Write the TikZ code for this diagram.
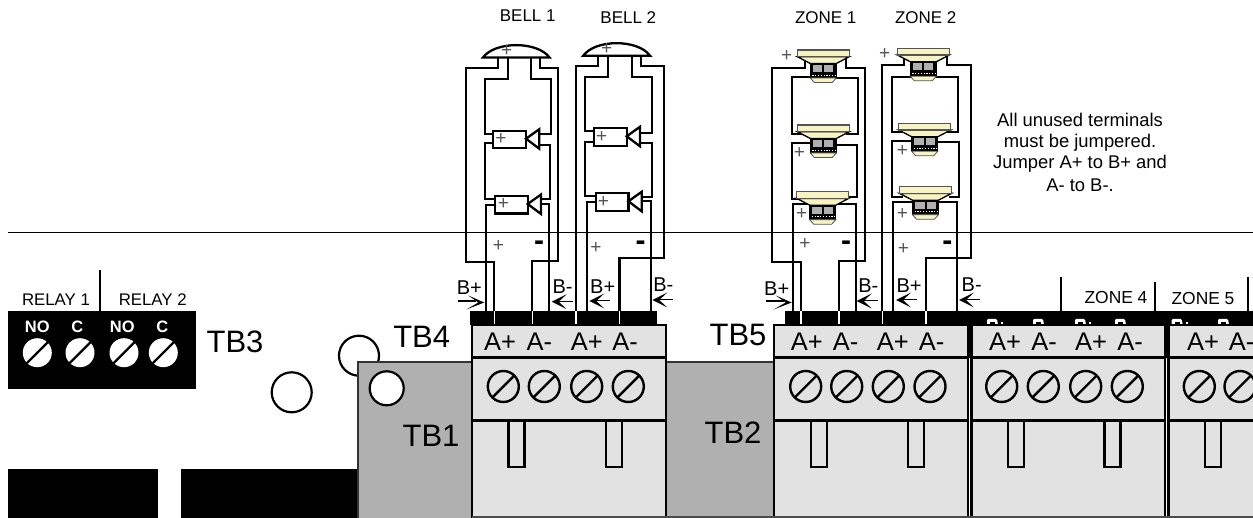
\documentclass[tikz,border=0pt]{standalone}
\usepackage{fontspec}
\setmainfont{Liberation Sans}
\newcommand\fsz[1]{\fontsize{#1}{#1}\selectfont}
\definecolor{blockgray}{HTML}{E2E2E2}
\definecolor{boardgray}{HTML}{B0B0B0}
\definecolor{cream}{HTML}{F8F3C2}
\definecolor{plusgray}{HTML}{555555}
\tikzset{
  wire/.style={line width=2.3pt,line join=miter,line cap=butt,black},
  bodyline/.style={line width=2.2pt,black},
  txt/.style={inner sep=0pt,text=black},
  tblabel/.style={txt,font=\fsz{31}},
  alabel/.style={txt,font=\fsz{25.5}},
  devlabel/.style={txt,font=\fsz{17}},
  blabel/.style={txt,font=\fsz{20}},
  pluslabel/.style={txt,text=plusgray,font=\fsz{19}},
  minuslabel/.style={txt,font=\bfseries\fsz{30}},
  notelabel/.style={txt,font=\fsz{18.4}},
}
% screw: centre
\newcommand\tbscrew[2]{%
  \draw[line width=2.4pt,fill=blockgray] (#1,#2) circle (15.5pt);
  \draw[line width=2.4pt] (#1-11,#2+11) -- (#1+11,#2-11);}
\newcommand\relayscrew[2]{%
  \fill[white] (#1,#2) circle (14.5pt);
  \draw[line width=2.2pt,black] (#1-10.5,#2+10.5) -- (#1+10.5,#2-10.5);}
% terminal block: left, right
\newcommand\tbblock[2]{%
  \fill[blockgray] (#1,325) rectangle (#2,520);
  \draw[bodyline] (#1,520) -- (#1,325) -- (#2,325) -- (#2,520);
  \draw[bodyline] (#1,357.5) -- (#2,357.5);
  \draw[bodyline] (#1,420.5) -- (#2,420.5);}
\newcommand\tbtab[1]{%
  \draw[bodyline] (#1,420.5) -- (#1,467) -- (#1+16,467) -- (#1+16,420.5);}
% horn: rect left, rect top
\newcommand\horn[2]{%
  \begin{scope}[shift={(#1,#2)}]
  \draw[wire,fill=white] (0,0) rectangle (32.7,17.6);
  \draw[wire,fill=white] (32.7,8) -- (46,-1.5) -- (46,18) -- cycle;
  \end{scope}}
% dome: left, right, base y, top y
\newcommand\dome[4]{%
  \draw[wire,fill=white] (#1,#3) .. controls (#1+12,#4-1) and (#2-12,#4-1) .. (#2,#3) -- cycle;}
% speaker: centre x, top y
\newcommand\speaker[2]{%
  \begin{scope}[shift={(#1,#2)}]
  \fill[black] (-13.5,13) rectangle (13.5,28);
  \fill[boardgray] (-10.5,15) rectangle (-1,22);
  \fill[boardgray] (1,15) rectangle (10,22);
  \draw[line width=.8pt,white,dash pattern=on 1.2pt off 1.6pt] (-11,25) -- (12,25);
  \draw[line width=1.3pt,fill=cream] (-26,6.7) -- (26,6.7) -- (13,13.5) -- (-13,13.5) -- cycle;
  \draw[line width=1.2pt,draw=plusgray,fill=cream] (-26,0) rectangle (26,6.7);
  \draw[line width=.8pt,draw=plusgray,fill=cream] (-13,28) -- (13,28) -- (9,32.5) -- (-9,32.5) -- cycle;
  \end{scope}}
% arrows: tip x, y
\newcommand\arrR[2]{%
  \draw[line width=1.1pt] (#1-26,#2-1.5) -- (#1-8,#2-1.5);
  \fill (#1,#2) -- (#1-16,#2-7) -- (#1-6,#2) -- (#1-18,#2+7) -- cycle;}
\newcommand\arrL[2]{%
  \draw[line width=1.1pt] (#1+21,#2-.5) -- (#1+6,#2-.5);
  \fill (#1,#2) -- (#1+15,#2-7.5) -- (#1+7,#2) -- (#1+15,#2+7.5) -- cycle;}
% clipped tops of the B+ and B- legends in the zone strip
\newcommand\bcap[1]{%
  \fill[white,rounded corners=1.2pt] (#1,325) -- (#1,319) -- (#1+10,319) -- (#1+11,325) -- cycle;
  \fill[black] (#1+3,322) rectangle (#1+8,325.5);}
\begin{document}
\begin{tikzpicture}[x=1pt,y=-1pt]
\path[use as bounding box] (0,0) rectangle (1253,518);
\clip (0,0) rectangle (1253,518);
\fill[white] (0,0) rectangle (1253,518);

% horizontal line
\draw[line width=1pt] (8,232.7) -- (1253,232.7);

% ---------- board
\fill (8,469.3) rectangle (158,518);
\fill (180.7,469.3) rectangle (358,518);
\draw[bodyline,fill=white] (291.7,392.3) circle (20pt);
\draw[bodyline,fill=white] (359,355.7) circle (20pt);
\draw[line width=2pt,draw=black!80,fill=boardgray] (358,520) -- (358,361.7) -- (480,361.7) -- (480,520);
\fill[boardgray] (660,361.7) rectangle (780,520);
\draw[line width=2pt,draw=black!80] (660,361.7) -- (780,361.7);
\draw[bodyline,fill=white] (386.7,388.3) circle (17pt);

% ---------- relay block
\fill (8,311) rectangle (195.7,389.3);
\draw[line width=2.2pt] (100,270) -- (100,311);
\foreach \x in {37.3,80,124,163.3} {\relayscrew{\x}{352.7}}
\node[txt,text=white,font=\bfseries\fsz{16.5}] (rno1) at (37.3,326.7) {NO};
\node[txt,text=white,font=\bfseries\fsz{16.5}] (rc1) at (77.3,326.7) {C};
\node[txt,text=white,font=\bfseries\fsz{16.5}] (rno2) at (122.3,326.7) {NO};
\node[txt,text=white,font=\bfseries\fsz{16.5}] (rc2) at (162.3,326.7) {C};
\node[txt,font=\fsz{16.8}] (relay1) at (56,300) {RELAY 1};
\node[txt,font=\fsz{16.8}] (relay2) at (152.7,300) {RELAY 2};

% ---------- wires: bell 1
\draw[wire] (497.7,57) -- (497.7,67.7) -- (465.7,67.7) -- (465.7,261.7) -- (494.3,261.7) -- (494.3,312);
\draw[wire] (507.7,57) -- (507.7,79.3) -- (485,79.3) -- (485,134) -- (494,134);
\draw[wire] (531,57) -- (531,79.3) -- (551,79.3) -- (551,134) -- (539,134);
\draw[wire] (540,57) -- (540,67.7) -- (558.3,67.7) -- (558.3,261) -- (532.3,261) -- (532.3,312);
\draw[wire] (494,143.3) -- (485,143.3) -- (485,199) -- (496,199);
\draw[wire] (539,145) -- (550,145) -- (550,199) -- (540,199);
\draw[wire] (496,205) -- (486,205) -- (486,312);
\draw[wire] (540,204) -- (549.3,204) -- (549.3,312);
\dome{483}{549.5}{57.5}{42}
\horn{493.3}{130.7}
\horn{495}{196}

% ---------- wires: bell 2
\draw[wire] (598.3,55) -- (598.3,65.7) -- (575.7,65.7) -- (575.7,312);
\draw[wire] (608.3,55) -- (608.3,76.7) -- (585.3,76.7) -- (585.3,130.7) -- (594,130.7);
\draw[wire] (632,55) -- (632,77.3) -- (651.7,77.3) -- (651.7,132.7) -- (640,132.7);
\draw[wire] (640.7,55) -- (640.7,65.7) -- (664,65.7) -- (664,257.7) -- (619.5,257.7) -- (619.5,312);
\draw[wire] (594,141.7) -- (585.3,141.7) -- (585.3,195.7) -- (596,195.7);
\draw[wire] (640,142.7) -- (651.7,142.7) -- (651.7,196.7) -- (641,196.7);
\draw[wire] (596,201.7) -- (586.7,201.7) -- (586.7,312);
\draw[wire] (641,201) -- (650.7,201) -- (650.7,312);
\dome{583.3}{650}{55.7}{40}
\horn{594}{128.3}
\horn{595.7}{193.3}

% ---------- wires: zone 1
\draw[wire] (805,60) -- (805,67.7) -- (772.3,67.7) -- (772.3,261.7) -- (800.7,261.7) -- (800.7,312);
\draw[wire] (846,56) -- (846,67.7) -- (865,67.7) -- (865,261) -- (838.7,261) -- (838.7,312);
\draw[wire] (811,77.3) -- (791.7,77.3) -- (791.7,134) -- (802,134);
\draw[wire] (835,78) -- (857.7,78) -- (857.7,134) -- (846,134);
\draw[wire] (811,143.3) -- (791.7,143.3) -- (791.7,199) -- (802,199);
\draw[wire] (835,145) -- (856.7,145) -- (856.7,197) -- (845,197);
\draw[wire] (811,204.3) -- (792.7,204.3) -- (792.7,312);
\draw[wire] (834,204.3) -- (855.7,204.3) -- (855.7,312);
\speaker{823.3}{50}
\speaker{823.3}{125}
\speaker{822.7}{191.7}

% ---------- wires: zone 2
\draw[wire] (904,57) -- (904,65) -- (882,65) -- (882,312);
\draw[wire] (946.7,55) -- (946.7,65) -- (970.7,65) -- (970.7,257.7) -- (925.7,257.7) -- (925.7,312);
\draw[wire] (912,76.7) -- (891.7,76.7) -- (891.7,131.7) -- (902,131.7);
\draw[wire] (935,77.3) -- (958.3,77.3) -- (958.3,131.7) -- (947,131.7);
\draw[wire] (912,141) -- (891.7,141) -- (891.7,196.7) -- (903,196.7);
\draw[wire] (936,142.3) -- (958.7,142.3) -- (958.7,196.7) -- (949,196.7);
\draw[wire] (913,201.7) -- (893.3,201.7) -- (893.3,312);
\draw[wire] (936,201.7) -- (957.3,201.7) -- (957.3,312);
\speaker{923.3}{48.3}
\speaker{924.7}{123.3}
\speaker{925.5}{186.7}

% ---------- black strips with wire ticks
\fill (470,311) rectangle (656.7,325);
\foreach \x in {494.3,532.3,575.7,619.5} {\draw[line width=1.6pt,white] (\x,311) -- (\x,325);}
\fill (785,311) rectangle (1253,325);
\foreach \x in {800.7,838.7,882.3,925.7} {\draw[line width=1.6pt,white] (\x,311) -- (\x,325);}
\draw[line width=2.2pt] (1061,277) -- (1061,311);
\draw[line width=2.2pt] (1155,281.7) -- (1155,311);
\draw[line width=2.2pt] (1248.3,277) -- (1248.3,311);
\foreach \x in {987,1033,1075,1115,1171.7,1218} {\bcap{\x}}
\foreach \x in {1001,1089,1186} {\fill[white] (\x,322) rectangle (\x+2,325);}

% ---------- terminal blocks
\tbblock{472}{666}
\tbblock{774}{968}
\fill (968,325) rectangle (972,358);
\tbblock{971.5}{1165}
\fill (1165,325) rectangle (1169,358);
\tbblock{1168.5}{1275}
\foreach \x in {508.5,606,811,908,1008,1104.5,1205} {\tbtab{\x}}
\foreach \x in {503.3,544.3,586.7,628.3,805.7,846.7,888.3,930,1001.7,1043.3,1085.7,1127.3,1199.3,1240} {\tbscrew{\x}{386.5}}
\draw[line width=1.4pt,draw=black!70] (472,517) -- (1253,517);

\foreach \x/\t in {500/A+,539.3/A-,586.7/A+,625/A-,806.7/A+,845.7/A-,892.7/A+,931.7/A-,1005/A+,1044/A-,1091/A+,1130/A-,1203/A+,1241.7/A-}
  {\node[alabel] at (\x,342) {\t};}

% ---------- TB labels
\node[tblabel] (tb3) at (235,341.7) {TB3};
\node[tblabel] (tb4) at (421.7,336.7) {TB4};
\node[tblabel] (tb1) at (431,435.7) {TB1};
\node[tblabel] (tb5) at (738,335) {TB5};
\node[tblabel] (tb2) at (733,433) {TB2};

% ---------- device labels
\node[devlabel] (bell1) at (527.7,15.7) {BELL 1};
\node[devlabel] (bell2) at (628.3,17.7) {BELL 2};
\node[devlabel] (zone1) at (825.7,17.7) {ZONE 1};
\node[devlabel] (zone2) at (925.7,17.3) {ZONE 2};
\node[txt,font=\fsz{17.4}] (zone4) at (1116,298) {ZONE 4};
\node[txt,font=\fsz{17.4}] (zone5) at (1203,299) {ZONE 5};

% ---------- B+ / B- labels and arrows
\node[blabel] (bp1) at (469.3,287.3) {B+};  \arrR{484.3}{302.5}
\node[blabel] (bm1) at (562.5,286.7) {B-};  \arrL{551.7}{301.7}
\node[blabel] (bp2) at (602.7,286.7) {B+};  \arrL{589.3}{301}
\node[blabel] (bm2) at (663.3,285) {B-};    \arrL{652.3}{300}
\node[blabel] (bp3) at (776.7,288.3) {B+};  \arrR{791.7}{302.5}
\node[blabel] (bm3) at (868.3,286) {B-};    \arrL{856.7}{301}
\node[blabel] (bp4) at (909,285.7) {B+};    \arrL{896}{300}
\node[blabel] (bm4) at (971.7,285) {B-};    \arrL{959}{300}

% ---------- plus and minus marks
\foreach \x/\y in {506.7/51,606.7/49,501/139,503.3/204,601.7/136.7,603.3/201.7,498.3/246,596/247.7,786.7/55.7,799.3/153.3,801.7/214.3,805/244,884.7/54.3,902.3/151,902.3/214,903.3/249.3}
  {\node[pluslabel] at (\x,\y) {+};}
\foreach \x/\y in {539/245.7,640.7/246,846/245.7,947.3/246}
  {\node[minuslabel] at (\x,\y) {-};}

% ---------- note
\node[notelabel] (n1) at (1080,120) {All unused terminals};
\node[notelabel] (n2) at (1080,142.5) {must be jumpered.};
\node[notelabel] (n3) at (1080,164) {Jumper A+ to B+ and};
\node[notelabel] (n4) at (1080,185) {A- to B-.};
\end{tikzpicture}
\end{document}
